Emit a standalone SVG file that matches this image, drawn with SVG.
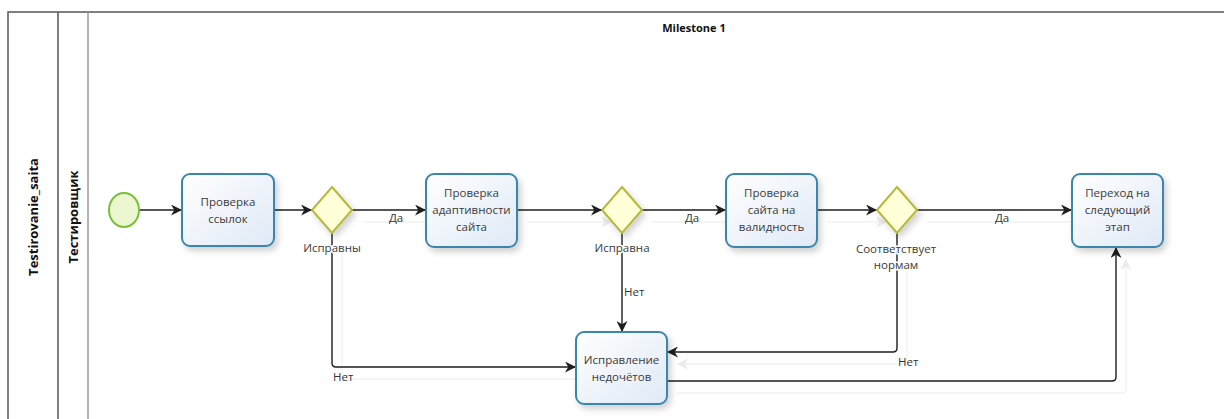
<svg xmlns="http://www.w3.org/2000/svg" width="1224" height="419" viewBox="0 0 1224 419">
  <style>
    .pool { stroke: #555; stroke-width: 1.5; fill: none; }
    .lane2 { stroke: #9a9a9a; stroke-width: 1.5; fill: none; }
    .title { font-family: "Open Sans", "Noto Sans", sans-serif; font-weight: bold; fill: #111; }
    .task { fill: url(#taskFill); stroke: #3a86ad; stroke-width: 2; filter: url(#shadow); }
    .gw { fill: #ffffd8; stroke: #b7b83a; stroke-width: 2; filter: url(#shadow); }
    .start { fill: #ecf7d2; stroke: #7cbf3a; stroke-width: 2; }
    .t { font-family: "Open Sans", "Noto Sans", sans-serif; font-size: 11.5px; fill: #3a3a3a; text-anchor: middle; }
    .lbl { font-family: "Open Sans", "Noto Sans", sans-serif; font-size: 11.5px; fill: #333; }
    .halo { stroke: #fff; stroke-width: 3; paint-order: stroke; }
    .flow { fill: none; stroke: #1e1e1e; stroke-width: 1.4; marker-end: url(#arrow); }
    .ghost { fill: none; stroke: #f2f2f2; stroke-width: 1.4; marker-end: url(#arrowGhost); }
  </style>
  <defs>
    <linearGradient id="taskFill" x1="0" y1="0" x2="1" y2="1">
      <stop offset="0" stop-color="#ffffff"/>
      <stop offset="1" stop-color="#dfe9f6"/>
    </linearGradient>
    <filter id="shadow" x="-20%" y="-20%" width="150%" height="150%">
      <feDropShadow dx="3" dy="4" stdDeviation="3" flood-color="#000" flood-opacity="0.18"/>
    </filter>
    <marker id="arrow" viewBox="0 0 10 10" refX="10" refY="5" markerWidth="11" markerHeight="11" markerUnits="userSpaceOnUse" orient="auto">
      <path d="M0,0 L10,5 L0,10 L3,5 z" fill="#1e1e1e"/>
    </marker>
    <marker id="arrowGhost" viewBox="0 0 10 10" refX="10" refY="5" markerWidth="11" markerHeight="11" markerUnits="userSpaceOnUse" orient="auto">
      <path d="M0,0 L10,5 L0,10 L3,5 z" fill="#ebebeb"/>
    </marker>
    <path id="e1" d="M139,210 H182"/>
    <path id="e2" d="M274,210 H312"/>
    <path id="e3" d="M352,210 H426"/>
    <path id="e4" d="M517,210 H602"/>
    <path id="e5" d="M642,210 H726"/>
    <path id="e6" d="M817,210 H877"/>
    <path id="e7" d="M917,210 H1072"/>
    <path id="e8" d="M332,233 V363 Q332,367 336,367 H576"/>
    <path id="e9" d="M622,233 V332"/>
    <path id="e10" d="M897,233 V348 Q897,352 893,352 H667"/>
    <path id="e11" d="M667,381 H1112 Q1116,381 1116,377 V247"/>
  </defs>

  <rect width="1224" height="419" fill="#fff"/>

  <!-- pool and lane frame -->
  <g id="pool">
    <path class="pool" d="M8,419 V12 H1224"/>
    <path class="pool" d="M58,12 V419"/>
    <path class="lane2" d="M88,12 V419"/>
    <text class="title" font-size="13" transform="translate(38,217) rotate(-90)" text-anchor="middle">Testirovanie_saita</text>
    <text class="title" font-size="13" transform="translate(78,217) rotate(-90)" text-anchor="middle">Тестировщик</text>
    <text class="title" font-size="11" x="694" y="32" text-anchor="middle">Milestone 1</text>
  </g>

  <!-- faint offset trace of the sequence flows -->
  <g id="flow-trace" class="ghost" transform="translate(10,12)">
    <use href="#e3"/><use href="#e4"/><use href="#e5"/><use href="#e6"/><use href="#e7"/>
    <use href="#e8"/><use href="#e10"/><use href="#e11"/>
  </g>

  <!-- sequence flows -->
  <g id="connectors" class="flow">
    <use href="#e1"/><use href="#e2"/><use href="#e3"/><use href="#e4"/><use href="#e5"/>
    <use href="#e6"/><use href="#e7"/><use href="#e8"/><use href="#e9"/><use href="#e10"/><use href="#e11"/>
  </g>

  <!-- flow labels -->
  <g id="flow-labels">
    <text class="lbl" x="389" y="222">Да</text>
    <text class="lbl" x="685" y="222">Да</text>
    <text class="lbl" x="995" y="222">Да</text>
    <text class="lbl" x="333" y="381">Нет</text>
    <text class="lbl" x="624" y="296">Нет</text>
    <text class="lbl" x="898" y="366">Нет</text>
  </g>

  <g id="start">
    <ellipse class="start" cx="124" cy="210" rx="15" ry="17"/>
  </g>

  <g id="task-links">
    <rect class="task" x="182" y="174" width="92" height="72" rx="8"/>
    <text class="t" x="228" y="206">Проверка</text>
    <text class="t" x="228" y="223">ссылок</text>
  </g>

  <g id="gw-links">
    <polygon class="gw" points="332,187 352,210 332,233 312,210"/>
    <text class="t halo" x="332" y="252">Исправны</text>
  </g>

  <g id="task-adaptive">
    <rect class="task" x="426" y="174" width="91" height="73" rx="8"/>
    <text class="t" x="471.5" y="197">Проверка</text>
    <text class="t" x="471.5" y="214">адаптивности</text>
    <text class="t" x="471.5" y="231">сайта</text>
  </g>

  <g id="gw-adaptive">
    <polygon class="gw" points="622,187 642,210 622,233 602,210"/>
    <text class="t halo" x="622" y="252">Исправна</text>
  </g>

  <g id="task-validity">
    <rect class="task" x="726" y="174" width="91" height="73" rx="8"/>
    <text class="t" x="771.5" y="197">Проверка</text>
    <text class="t" x="771.5" y="214">сайта на</text>
    <text class="t" x="771.5" y="231">валидность</text>
  </g>

  <g id="gw-validity">
    <polygon class="gw" points="897,187 917,210 897,233 877,210"/>
    <text class="t halo" x="896" y="253">Соответствует</text>
    <text class="t halo" x="896" y="269">нормам</text>
  </g>

  <g id="task-next">
    <rect class="task" x="1072" y="174" width="91" height="73" rx="8"/>
    <text class="t" x="1117.5" y="197">Переход на</text>
    <text class="t" x="1117.5" y="214">следующий</text>
    <text class="t" x="1117.5" y="231">этап</text>
  </g>

  <g id="task-fix">
    <rect class="task" x="576" y="332" width="91" height="72" rx="8"/>
    <text class="t" x="621.5" y="364">Исправление</text>
    <text class="t" x="621.5" y="381">недочётов</text>
  </g>
</svg>
